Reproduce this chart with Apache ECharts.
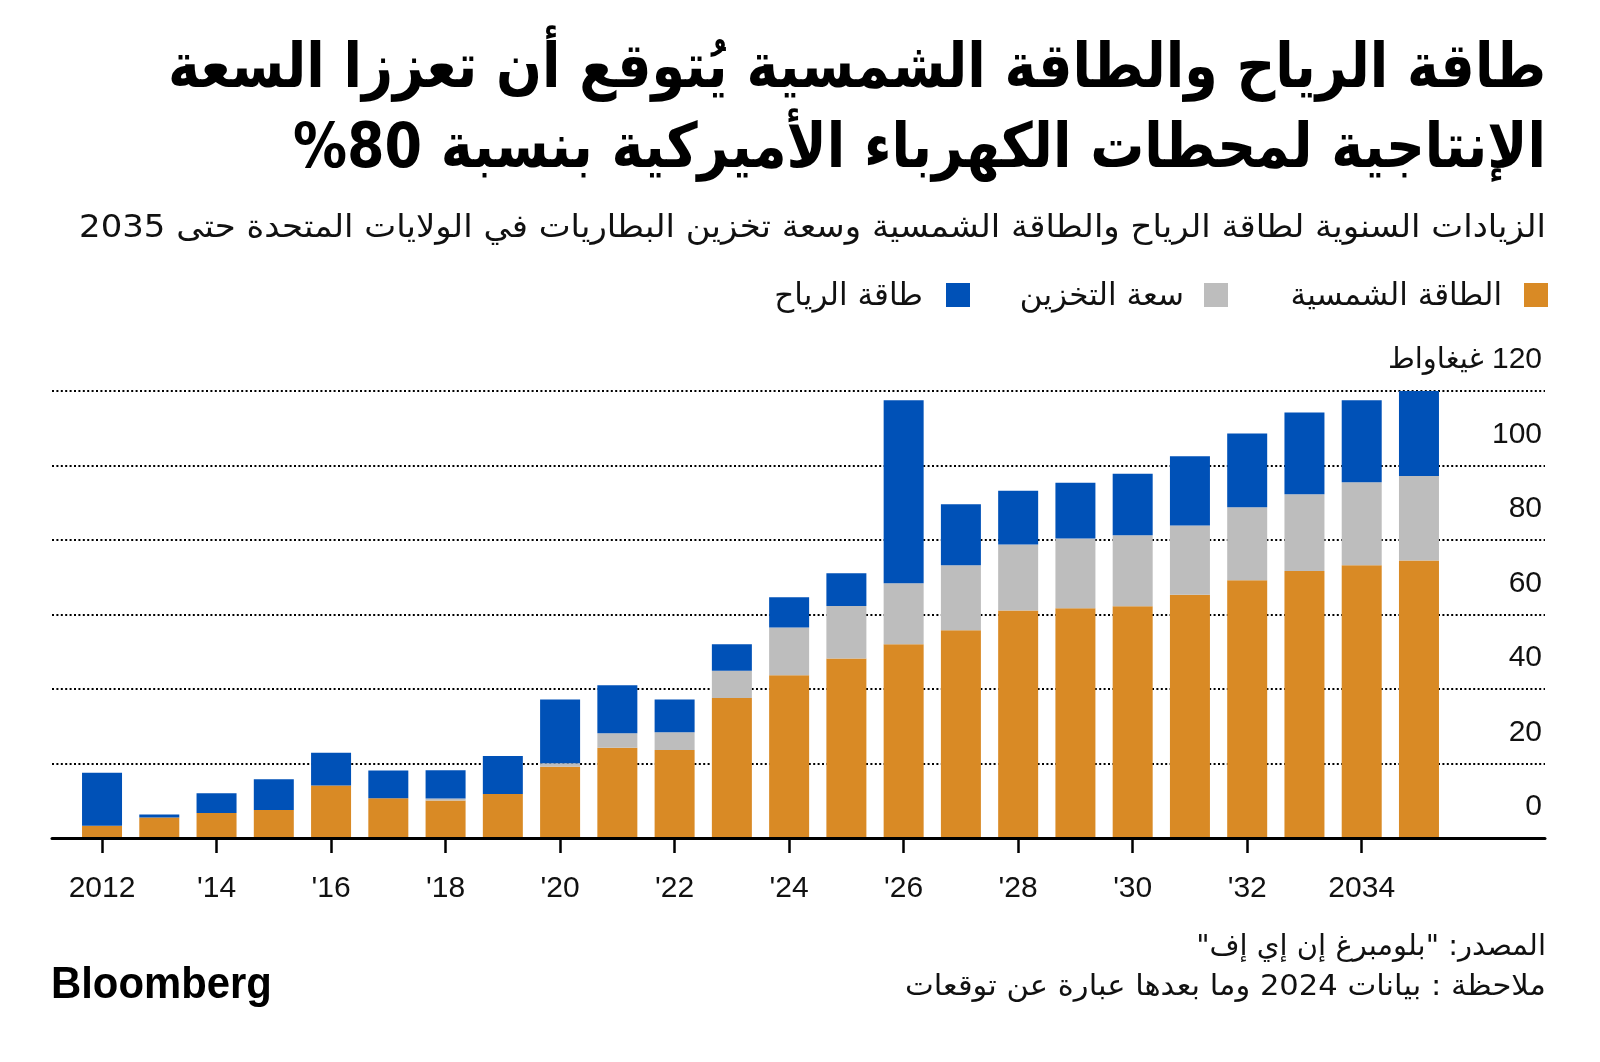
<!DOCTYPE html>
<html>
<head>
<meta charset="utf-8">
<script src="https://cdn.jsdelivr.net/npm/echarts@6/dist/echarts.min.js"></script>
<style>
html,body{margin:0;padding:0;background:#fff;}
#c{width:1600px;height:1062px;}
</style>
</head>
<body>
<div id="c"></div>
<script>
// ---- data ----
const years = ['2012','2013','2014','2015','2016','2017','2018','2019','2020','2021','2022','2023','2024','2025','2026','2027','2028','2029','2030','2031','2032','2033','2034','2035'];
const xTickLabels = ['2012','','\u200E\'14','','\u200E\'16','','\u200E\'18','','\u200E\'20','','\u200E\'22','','\u200E\'24','','\u200E\'26','','\u200E\'28','','\u200E\'30','','\u200E\'32','','2034',''];
const solar   = [3.3, 5.5, 6.7, 7.5, 14.1, 10.7, 10.1, 11.8, 19.1, 24.2, 23.6, 37.6, 43.7, 48.2, 52.0, 55.8, 61.1, 61.7, 62.2, 65.3, 69.2, 71.7, 73.2, 74.5];
const storage = [0, 0, 0, 0, 0, 0, 0.5, 0, 1.0, 3.9, 4.8, 7.3, 12.8, 14.1, 16.4, 17.4, 17.7, 18.7, 19.1, 18.6, 19.6, 20.6, 22.3, 22.7];
const wind    = [14.2, 0.8, 5.3, 8.3, 8.8, 7.4, 7.6, 10.2, 17.1, 12.9, 8.8, 7.1, 8.1, 8.8, 49.1, 16.4, 14.4, 15.0, 16.5, 18.6, 19.8, 21.9, 22.0, 23.0];
const yTickValues = [0, 20, 40, 60, 80, 100, 120];
const yUnit = 'غيغاواط';
const seriesNames = ['الطاقة الشمسية', 'سعة التخزين', 'طاقة الرياح'];
const titleLines = ['طاقة الرياح والطاقة الشمسية يُتوقع أن تعززا السعة', 'الإنتاجية لمحطات الكهرباء الأميركية بنسبة 80%'];
const subtitle = 'الزيادات السنوية لطاقة الرياح والطاقة الشمسية وسعة تخزين البطاريات في الولايات المتحدة حتى 2035';
const sourceText = 'المصدر: "بلومبرغ إن إي إف"';
const noteText = 'ملاحظة : بيانات 2024 وما بعدها عبارة عن توقعات';

// ---- styles ----
const COLORS = ['#D98A25', '#BDBDBD', '#0051B7'];
const AR = s => '\u202B' + s + '\u202C';
const arFont = '"DejaVu Sans", sans-serif';
const latFont = '"Liberation Sans", Arial, sans-serif';
const RIGHT_X = 1546;

const chart = echarts.init(document.getElementById('c'));
const gridTop = 391, gridBottom = 1062 - 838;

function txt(x, y, s, font, opts) {
  return Object.assign({
    type: 'text', x: x, y: y,
    style: {text: s, font: font, fill: '#111', align: 'right', verticalAlign: 'top'}
  }, opts || {});
}

const option = {
  animation: false,
  backgroundColor: '#fff',
  grid: [
    {left: 73.4, right: 152.4, top: gridTop, bottom: gridBottom, containLabel: false},
    {left: 52, right: 55, top: gridTop, bottom: gridBottom, containLabel: false}
  ],
  xAxis: [
    {
      type: 'category', gridIndex: 0, data: years,
      axisLine: {show: false},
      axisTick: {show: true, interval: 1, alignWithLabel: true, length: 15, lineStyle: {color: '#000', width: 2.5}},
      axisLabel: {
        interval: 1, margin: 36, color: '#111', fontFamily: latFont, fontSize: 30,
        formatter: (v) => xTickLabels[years.indexOf(v)]
      },
      splitLine: {show: false}
    },
    {
      type: 'value', gridIndex: 1, min: 0, max: 1, z: 5,
      axisLine: {show: true, onZero: false, lineStyle: {color: '#000', width: 3}},
      axisTick: {show: false}, axisLabel: {show: false}, splitLine: {show: false}
    }
  ],
  yAxis: [
    {type: 'value', gridIndex: 0, min: 0, max: 120, interval: 20, show: false},
    {
      type: 'value', gridIndex: 1, min: 0, max: 120, interval: 20, position: 'right',
      axisLine: {show: false}, axisTick: {show: false},
      axisLabel: {
        margin: -3, align: 'right', verticalAlign: 'bottom', padding: [0, 0, 16, 0],
        color: '#111', fontFamily: latFont, fontSize: 30,
        formatter: v => v === yTickValues[yTickValues.length - 1] ? '{u|' + yUnit + '}{n| ' + v + '}' : String(v),
        rich: {
          n: {fontFamily: latFont, fontSize: 30, color: '#111'},
          u: {fontFamily: arFont, fontSize: 29, color: '#111'}
        }
      },
      splitLine: {show: true, lineStyle: {color: '#000', width: 2, type: [2, 2.4]}}
    }
  ],
  legend: {show: false},
  series: [
    {name: seriesNames[0], type: 'bar', stack: 'a', xAxisIndex: 0, yAxisIndex: 0, data: solar, barWidth: 40, itemStyle: {color: COLORS[0]}, z: 2},
    {name: seriesNames[1], type: 'bar', stack: 'a', xAxisIndex: 0, yAxisIndex: 0, data: storage, barWidth: 40, itemStyle: {color: COLORS[1]}, z: 2},
    {name: seriesNames[2], type: 'bar', stack: 'a', xAxisIndex: 0, yAxisIndex: 0, data: wind, barWidth: 40, itemStyle: {color: COLORS[2]}, z: 2}
  ],
  graphic: [
    {type: 'text', x: RIGHT_X, y: 40, scaleX: 0.87, style: {text: AR(titleLines[0]), font: 'bold 62px ' + arFont, fill: '#000', align: 'right', verticalAlign: 'top'}},
    {type: 'text', x: RIGHT_X, y: 120, scaleX: 0.87, style: {text: AR(titleLines[1]), font: 'bold 62px ' + arFont, fill: '#000', align: 'right', verticalAlign: 'top'}},
    txt(RIGHT_X, 213, AR(subtitle), '32px ' + arFont, {scaleX: 1.06}),
    // legend (RTL)
    {type: 'rect', shape: {x: 1524, y: 283, width: 24, height: 24}, style: {fill: COLORS[0]}},
    txt(1502, 281, AR(seriesNames[0]), '31px ' + arFont),
    {type: 'rect', shape: {x: 1204, y: 283, width: 24, height: 24}, style: {fill: COLORS[1]}},
    txt(1184, 281, AR(seriesNames[1]), '31px ' + arFont),
    {type: 'rect', shape: {x: 946, y: 283, width: 24, height: 24}, style: {fill: COLORS[2]}},
    txt(923, 281, AR(seriesNames[2]), '31px ' + arFont),
    // footer
    txt(RIGHT_X, 933, AR(sourceText), '29px ' + arFont),
    txt(RIGHT_X, 973, AR(noteText), '29px ' + arFont, {scaleX: 1.055}),
    {type: 'text', x: 51, y: 963, scaleX: 0.93, style: {text: 'Bloomberg', font: 'bold 45px ' + latFont, fill: '#000', align: 'left', verticalAlign: 'top'}}
  ]
};
chart.setOption(option);
</script>
</body>
</html>
